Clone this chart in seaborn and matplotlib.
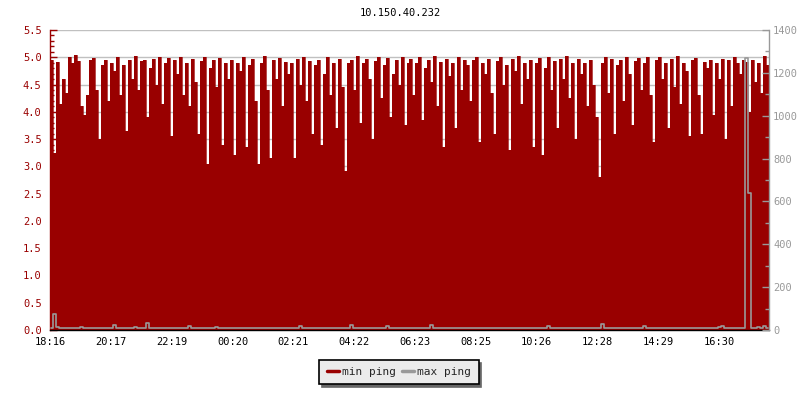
import numpy as np
import pandas as pd
import matplotlib
matplotlib.use("Agg")
import matplotlib.pyplot as plt
from matplotlib.lines import Line2D
from matplotlib.ticker import MultipleLocator, FormatStrFormatter
import seaborn as sns

title = "10.150.40.232"
tick_labels = ["18:16", "20:17", "22:19", "00:20", "02:21", "04:22",
               "06:23", "08:25", "10:26", "12:28", "14:29", "16:30"]
span_minutes = 1434

min_ping = [
    4.95, 3.25, 4.92, 4.15, 4.6, 4.35, 5.0, 4.9, 5.04, 4.93, 4.1, 3.95, 4.3, 4.95, 4.98, 4.4, 3.5, 4.85, 4.95, 4.2,
    4.9, 4.75, 5.0, 4.3, 4.85, 3.65, 4.95, 4.6, 5.02, 4.4, 4.93, 4.95, 3.9, 4.8, 4.97, 4.5, 5.0, 4.15, 4.9, 4.98,
    3.55, 4.95, 4.7, 5.0, 4.3, 4.9, 4.1, 4.97, 4.55, 3.6, 4.93, 5.01, 3.05, 4.8, 4.95, 4.45, 4.98, 3.4, 4.9, 4.6,
    4.95, 3.2, 4.9, 4.75, 5.0, 3.35, 4.85, 4.97, 4.2, 3.05, 4.9, 5.02, 4.4, 3.15, 4.95, 4.6, 4.98, 4.1, 4.92, 4.7,
    4.9, 3.15, 4.97, 4.5, 5.0, 4.2, 4.93, 3.6, 4.85, 4.95, 3.4, 4.7, 5.01, 4.3, 4.9, 3.7, 4.96, 4.45, 2.92, 4.9,
    4.95, 4.4, 5.02, 3.8, 4.9, 4.97, 4.6, 3.5, 4.93, 5.0, 4.25, 4.85, 4.98, 3.9, 4.7, 4.95, 4.5, 5.01, 3.75, 4.9,
    4.96, 4.3, 4.9, 5.0, 3.85, 4.8, 4.95, 4.55, 5.02, 4.1, 4.92, 3.35, 4.97, 4.65, 4.9, 3.7, 5.0, 4.4, 4.95, 4.85,
    4.2, 4.95, 5.01, 3.45, 4.9, 4.7, 4.97, 4.35, 3.6, 4.93, 5.0, 4.5, 4.85, 3.3, 4.96, 4.75, 5.02, 4.15, 4.9, 4.6,
    4.95, 3.35, 4.9, 4.98, 3.2, 4.8, 5.0, 4.4, 4.93, 3.7, 4.96, 4.6, 5.02, 4.25, 4.9, 3.5, 4.97, 4.7, 4.9, 4.1,
    4.95, 4.5, 3.9, 2.8, 4.9, 5.0, 4.35, 4.97, 3.6, 4.85, 4.95, 4.2, 5.01, 4.7, 3.75, 4.93, 4.98, 4.4, 4.9, 5.0,
    4.3, 3.45, 4.95, 5.0, 4.6, 4.9, 3.7, 4.97, 4.45, 5.02, 4.15, 4.9, 4.75, 3.55, 4.95, 4.98, 4.3, 3.6, 4.92, 4.8,
    4.95, 3.95, 4.9, 4.6, 4.97, 3.5, 4.95, 4.1, 5.0, 4.9, 4.7, 4.95, 4.92, 4.0, 4.95, 4.55, 4.9, 4.35, 5.03, 4.85,
]

max_ping = [
    10, 75, 12, 9, 10, 8, 11, 10, 9, 10, 12, 10, 9, 8, 10, 11, 9, 10, 10, 9,
    10, 22, 9, 10, 11, 10, 9, 10, 12, 10, 9, 11, 35, 10, 9, 10, 11, 10, 9, 10,
    10, 9, 11, 10, 9, 10, 18, 10, 9, 10, 11, 10, 9, 10, 10, 12, 9, 10, 10, 9,
    10, 11, 9, 10, 10, 9, 11, 10, 9, 10, 10, 9, 10, 11, 9, 10, 10, 9, 10, 11,
    10, 9, 10, 20, 9, 10, 10, 11, 9, 10, 10, 9, 10, 11, 10, 9, 10, 10, 9, 10,
    22, 10, 9, 10, 11, 10, 9, 10, 10, 9, 11, 10, 18, 10, 9, 10, 10, 9, 10, 11,
    10, 9, 10, 10, 11, 9, 10, 24, 10, 9, 10, 10, 11, 10, 9, 10, 10, 9, 10, 10,
    10, 9, 11, 10, 10, 9, 10, 10, 11, 9, 10, 10, 9, 10, 11, 10, 9, 10, 10, 9,
    10, 11, 9, 10, 10, 9, 20, 10, 11, 9, 10, 10, 9, 10, 10, 11, 9, 10, 10, 9,
    10, 9, 10, 11, 30, 10, 9, 10, 10, 9, 11, 10, 9, 10, 10, 9, 10, 11, 20, 10,
    10, 9, 10, 11, 10, 9, 10, 10, 9, 10, 11, 10, 9, 10, 10, 9, 10, 10, 11, 9,
    10, 9, 10, 12, 18, 9, 10, 10, 9, 10, 11, 10, 1270, 640, 10, 9, 12, 10, 18, 9,
]

RED = "#990000"
GRAY = "#999999"
FS = 7.5

def to_minutes(label):
    h, m = map(int, label.split(":"))
    base = 18 * 60 + 16
    return ((h * 60 + m) - base) % (24 * 60)

tick_pos = [to_minutes(t) for t in tick_labels]

n = len(min_ping)
edges = np.linspace(0, span_minutes, n + 1)
df_min = pd.DataFrame({"minute": edges, "min_ping": min_ping + [min_ping[-1]]})
centers = (edges[:-1] + edges[1:]) / 2
df_max = pd.DataFrame({"minute": centers, "max_ping": max_ping})

sns.set_theme(style="white")
plt.rcParams["font.family"] = ["DejaVu Sans Mono", "DejaVu Sans"]
plt.rcParams["font.size"] = FS

fig = plt.figure(figsize=(8, 4), dpi=100)
ax = fig.add_axes([50 / 800, 1 - 330 / 400, 719 / 800, 300 / 400])
ax.set_facecolor("white")

ax.fill_between(df_min["minute"], 0, df_min["min_ping"], step="post",
                color=RED, linewidth=0, zorder=2)
sns.lineplot(data=df_min, x="minute", y="min_ping", drawstyle="steps-post",
             color=RED, linewidth=0.5, ax=ax, zorder=2)

ax.set_xlim(0, span_minutes)
ax.set_ylim(0, 5.5)
ax.yaxis.set_major_locator(MultipleLocator(0.5))
ax.yaxis.set_minor_locator(MultipleLocator(0.1))
ax.set_xticks(tick_pos)
ax.set_xticklabels(tick_labels)
ax.set_xlabel("")
ax.set_ylabel("")
ax.grid(axis="y", color="#c0c0c0", linewidth=1, zorder=0)
ax.set_axisbelow(True)

ax.tick_params(axis="y", which="major", direction="in", length=5, width=1,
               color=RED, labelcolor=RED, labelsize=FS, pad=6)
ax.tick_params(axis="y", which="minor", direction="in", length=3, width=1, color=RED)
ax.tick_params(axis="x", which="major", direction="in", length=5, width=1,
               color="black", labelcolor="black", labelsize=FS, pad=5)
ax.yaxis.set_major_formatter(FormatStrFormatter("%.1f"))

ax.spines["top"].set_visible(False)
ax.spines["right"].set_visible(False)
ax.spines["left"].set_color(RED)
ax.spines["bottom"].set_color("black")
for s in ("left", "bottom"):
    ax.spines[s].set_linewidth(1)

ax2 = ax.twinx()
sns.lineplot(data=df_max, x="minute", y="max_ping", drawstyle="steps-mid",
             color=GRAY, linewidth=1.2, ax=ax2)
ax2.set_ylim(0, 1400)
ax2.set_xlim(0, span_minutes)
ax2.set_ylabel("")
ax2.yaxis.set_major_locator(MultipleLocator(200))
ax2.yaxis.set_minor_locator(MultipleLocator(100))
ax2.tick_params(axis="y", which="major", direction="in", length=5, width=1,
                color=GRAY, labelcolor=GRAY, labelsize=FS, pad=3)
ax2.tick_params(axis="y", which="minor", direction="in", length=3, width=1, color=GRAY)
for s in ("top", "left", "bottom"):
    ax2.spines[s].set_visible(False)
ax2.spines["right"].set_color(GRAY)
ax2.spines["right"].set_linewidth(1)
ax2.grid(False)

fig.text(0.5, 1 - 13 / 400, title, ha="center", va="center", fontsize=FS, color="black")

handles = [Line2D([], [], color=RED, linewidth=2.5),
           Line2D([], [], color=GRAY, linewidth=2.5)]
leg = fig.legend(handles, ["min ping", "max ping"], loc="center",
                 bbox_to_anchor=(399 / 800, 1 - 372 / 400), ncol=2,
                 frameon=True, fancybox=False,
                 shadow={"color": "#666666", "alpha": 1.0},
                 edgecolor="black", facecolor="#ebebeb", framealpha=1,
                 fontsize=8, handlelength=1.1, handletextpad=0.3,
                 columnspacing=0.5, borderpad=0.65, borderaxespad=0)
leg.get_frame().set_linewidth(1.2)

fig.savefig("out.png", dpi=100)
